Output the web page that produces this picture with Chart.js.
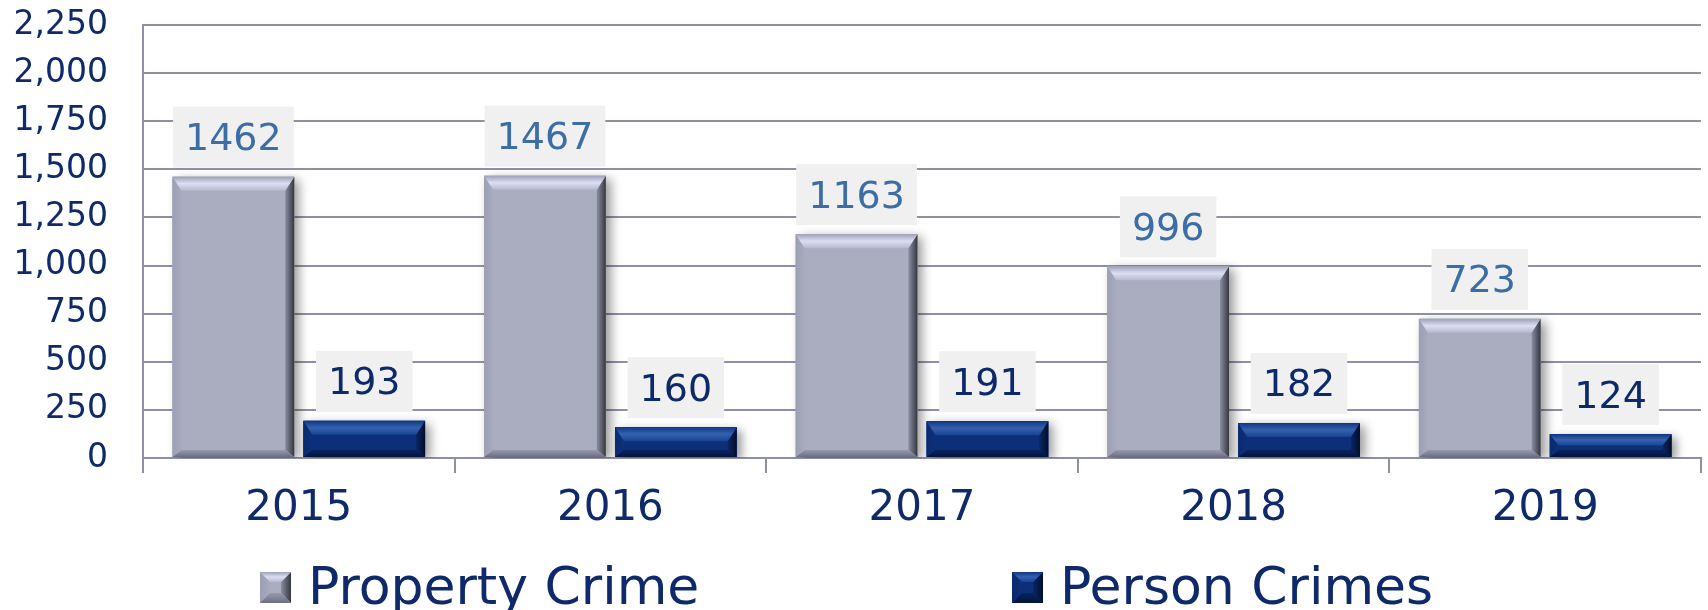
<!DOCTYPE html>
<html>
<head>
<meta charset="utf-8">
<script src="https://cdn.jsdelivr.net/npm/chart.js@4.4.1/dist/chart.umd.min.js"></script>
<style>
html, body { margin: 0; padding: 0; background: #fff; }
#wrap { width: 1708px; height: 610px; }
</style>
</head>
<body>
<div id="wrap"><canvas id="crimeChart" width="1708" height="610"></canvas></div>
<script>
// data
const years = ['2015', '2016', '2017', '2018', '2019'];
const propertyCrime = [1462, 1467, 1163, 996, 723];
const personCrimes = [193, 160, 191, 182, 124];
const yTicks = [0, 250, 500, 750, 1000, 1250, 1500, 1750, 2000, 2250];

const FONT = 'DejaVu Sans';
const NAVY = '#0f2a6a';
const GRID = '#8e91a5';

// bevel colours per series
const bevels = [
    { body: '#aaadc0', top: ['#9ea1b5', '#dcdff3', '#b6b9cd'], left: ['#9c9fb3', '#a8abbe'],
      right: ['#8a8da0', '#35373f'], bottom: ['#979aae', '#6c6f82'], text: '#3c6ea5' },
    { body: '#0c2f7a', top: ['#103784', '#3462b0', '#1a4390'], left: ['#0a2a70', '#0d3078'],
      right: ['#0a2764', '#020d2c'], bottom: ['#08245e', '#03143c'], text: '#0c2a6a' }
];

function bevelRect(ctx, x, y, w, h, c, bt, bs, bb){
    bt = Math.min(bt, h / 2); bb = Math.min(bb, h / 2); bs = Math.min(bs, w / 2);
    ctx.fillStyle = c.body;
    ctx.fillRect(x, y, w, h);
    const poly = (pts, fill) => {
        ctx.beginPath();
        ctx.moveTo(pts[0][0], pts[0][1]);
        for(let i = 1; i < pts.length; i++) ctx.lineTo(pts[i][0], pts[i][1]);
        ctx.closePath();
        ctx.fillStyle = fill;
        ctx.fill();
    };
    const grad = (x0, y0, x1, y1, cols) => {
        const g = ctx.createLinearGradient(x0, y0, x1, y1);
        cols.forEach((col, i) => g.addColorStop(i / (cols.length - 1), col));
        return g;
    };
    poly([[x, y], [x + bs, y + bt], [x + bs, y + h - bb], [x, y + h]], grad(x, 0, x + bs, 0, c.left));
    poly([[x + w, y], [x + w, y + h], [x + w - bs, y + h - bb], [x + w - bs, y + bt]], grad(x + w - bs, 0, x + w, 0, c.right));
    poly([[x, y + h], [x + w, y + h], [x + w - bs, y + h - bb], [x + bs, y + h - bb]], grad(0, y + h - bb, 0, y + h, c.bottom));
    poly([[x, y], [x + w, y], [x + w - bs, y + bt], [x + bs, y + bt]], grad(0, y, 0, y + bt, c.top));
}

const shadowPlugin = {
    id: 'barShadow',
    beforeDatasetsDraw(chart){
        const ctx = chart.ctx;
        ctx.save();
        ctx.shadowColor = 'rgba(0,0,0,0.4)';
        ctx.shadowBlur = 10;
        ctx.shadowOffsetX = 5;
        ctx.shadowOffsetY = 3;
    },
    afterDatasetsDraw(chart){
        chart.ctx.restore();
    }
};

const bevelLabelPlugin = {
    id: 'bevelLabels',
    afterDatasetsDraw(chart){
        const ctx = chart.ctx;
        chart.data.datasets.forEach((ds, di) => {
            const meta = chart.getDatasetMeta(di);
            const c = bevels[di];
            meta.data.forEach((el, i) => {
                const p = el.getProps(['x', 'y', 'base', 'width'], true);
                const left = p.x - p.width / 2;
                bevelRect(ctx, left, p.y, p.width, p.base - p.y, c, 14, 9, 7);

                // value label with grey box
                const txt = String(ds.data[i]);
                ctx.font = '38px "' + FONT + '"';
                const tw = ctx.measureText(txt).width;
                const bw = tw + 24, bh = 61;
                const by = p.y - 9 - bh;
                ctx.fillStyle = '#f0f0f0';
                ctx.fillRect(p.x - bw / 2, by, bw, bh);
                ctx.fillStyle = c.text;
                ctx.textAlign = 'center';
                ctx.textBaseline = 'middle';
                ctx.fillText(txt, p.x, by + bh / 2 + 3);
            });
        });
    }
};

const legendPlugin = {
    id: 'bevelLegend',
    afterDraw(chart){
        const ctx = chart.ctx;
        const xs = [260, 1012];
        const boxY = 572, size = 31;
        ctx.save();
        chart.data.datasets.forEach((ds, di) => {
            bevelRect(ctx, xs[di], boxY, size, size, bevels[di], 10, 10, 10);
            ctx.font = '52px "' + FONT + '"';
            ctx.fillStyle = NAVY;
            ctx.textAlign = 'left';
            ctx.textBaseline = 'alphabetic';
            ctx.fillText(ds.label, xs[di] + size + 17, 604);
        });
        ctx.restore();
    }
};

const ctx = document.getElementById('crimeChart').getContext('2d');
const crimeChart = new Chart(ctx, {
    type: 'bar',
    data: {
        labels: years,
        datasets: [{
            label: 'Property Crime',
            data: propertyCrime,
            backgroundColor: bevels[0].body,
            categoryPercentage: 0.84,
            barPercentage: 0.93
        }, {
            label: 'Person Crimes',
            data: personCrimes,
            backgroundColor: bevels[1].body,
            categoryPercentage: 0.84,
            barPercentage: 0.93
        }]
    },
    options: {
        responsive: false,
        animation: false,
        layout: { padding: { top: 25, right: 7, bottom: 80, left: 0 } },
        plugins: {
            legend: { display: false },
            tooltip: { enabled: false }
        },
        scales: {
            x: {
                grid: {
                    offset: true,
                    drawOnChartArea: false,
                    tickLength: 15,
                    color: GRID,
                    lineWidth: 2
                },
                border: { color: GRID, width: 2 },
                ticks: {
                    color: NAVY,
                    font: { family: FONT, size: 42 },
                    padding: 11
                },
                afterFit(scale){
                    scale.height = 72;
                    scale.paddingLeft = 0;
                    scale.paddingRight = 0;
                }
            },
            y: {
                min: 0,
                max: 2250,
                grid: { color: GRID, lineWidth: 2, drawTicks: false },
                border: { color: GRID, width: 2 },
                ticks: {
                    color: NAVY,
                    font: { family: FONT, size: 33 },
                    padding: 35,
                    callback: (v) => v.toLocaleString('en-US')
                },
                afterBuildTicks(scale){
                    scale.ticks = yTicks.map(v => ({ value: v }));
                },
                afterFit(scale){
                    scale.width = 143;
                    scale.paddingTop = 0;
                    scale.paddingBottom = 0;
                }
            }
        }
    },
    plugins: [shadowPlugin, bevelLabelPlugin, legendPlugin]
});
</script>
</body>
</html>
